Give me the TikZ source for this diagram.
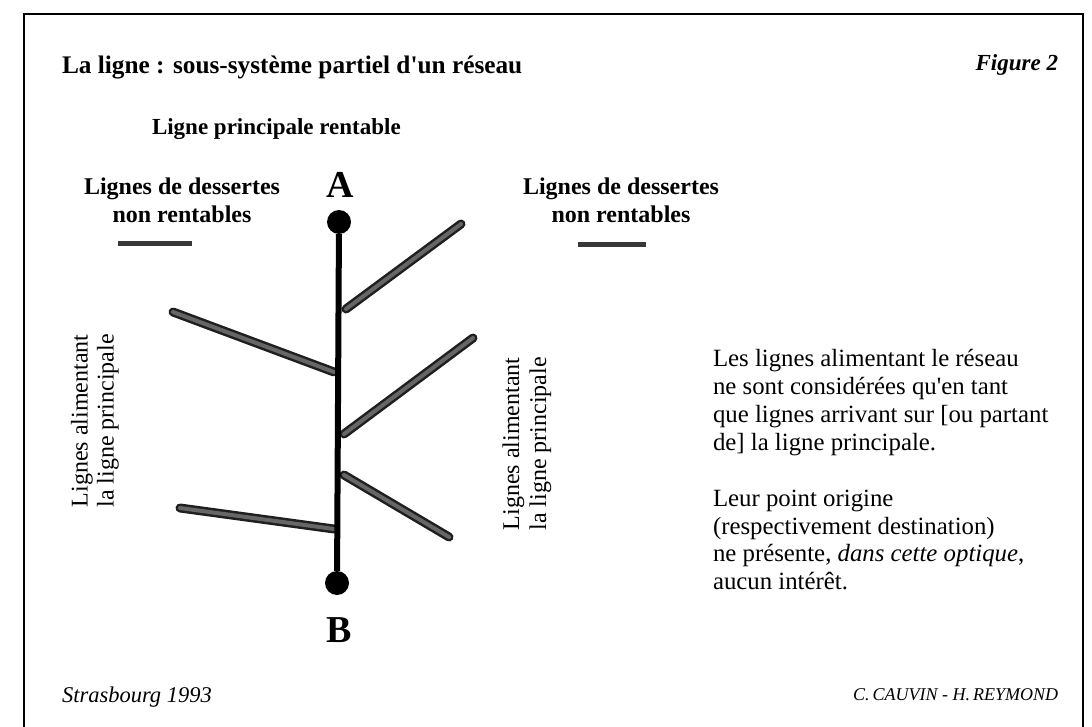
\documentclass[tikz,border=0pt]{standalone}
\usepackage{fontspec}
\setmainfont{Liberation Serif}
\begin{document}
\begin{tikzpicture}[x=1pt,y=-1pt,
  lbl/.style={inner sep=0pt, outer sep=0pt},
  mainline/.style={line width=6pt, black},
  stop/.style={circle, fill=black, inner sep=0pt, minimum size=24pt},
  feeder/.style={line width=9pt, black!88, line cap=round,
     postaction={draw, line width=4pt, black!60, line cap=round}},
  legendline/.style={line width=5pt, black!78}]
\useasboundingbox (0,0) rectangle (1092,727);
\clip (0,0) rectangle (1092,727);
% frame
\draw[line width=2.6pt] (24,760) -- (24,14) -- (1083,14) -- (1083,760);
% titles
\node[lbl, anchor=base west, font={\fontsize{25.3}{28}\selectfont\bfseries}] (title) at (62,74) {La ligne : sous-système partiel d\textquotesingle un réseau};
\node[lbl, anchor=base east, font={\fontsize{23}{26}\selectfont\bfseries\itshape}] (fig) at (1058,71) {Figure 2};
\node[lbl, anchor=base west, font={\fontsize{23}{26}\selectfont\bfseries}] (lpr) at (152,135) {Ligne principale rentable};
\node[lbl, anchor=base, align=center, font={\fontsize{24}{28}\selectfont\bfseries}] (dl) at (182,223) {Lignes de dessertes\\non rentables};
\node[lbl, anchor=base, align=center, font={\fontsize{24}{28}\selectfont\bfseries}] (dr) at (621,223) {Lignes de dessertes\\non rentables};
% A and B
\node[lbl, anchor=base, font={\fontsize{38}{40}\selectfont\bfseries}] (lA) at (340,198) {A};
\node[lbl, anchor=base, font={\fontsize{38}{40}\selectfont\bfseries}] (lB) at (339,642) {B};
\node[stop] (A) at (339,222) {};
\node[stop] (B) at (337,583) {};
% legend lines
\coordinate (l1a) at (118,244); \coordinate (l1b) at (192,244);
\coordinate (l2a) at (578,245); \coordinate (l2b) at (646,245);
\draw[legendline] (l1a) -- (l1b);
\draw[legendline] (l2a) -- (l2b);
% branch end points
\coordinate (j1) at (346,309); \coordinate (e1) at (461,224);
\coordinate (j2) at (334,372); \coordinate (e2) at (173,312);
\coordinate (j3) at (344,434); \coordinate (e3) at (473,338);
\coordinate (j4) at (344,475); \coordinate (e4) at (449,537);
\coordinate (j5) at (334,529); \coordinate (e5) at (180,508);
\draw[feeder] (j1) -- (e1);
\draw[feeder] (j2) -- (e2);
\draw[feeder] (j3) -- (e3);
\draw[feeder] (j4) -- (e4);
\draw[feeder] (j5) -- (e5);
% main line
\draw[mainline] (A) -- (B);
% rotated labels
\node[lbl, rotate=90, align=center, font={\fontsize{24}{26}\selectfont}] (rl) at (95,421) {Lignes alimentant\\la ligne principale};
\node[lbl, rotate=90, align=center, font={\fontsize{24}{27}\selectfont}] (rr) at (527,444) {Lignes alimentant\\la ligne principale};
% explanatory text
\node[lbl, anchor=base west, align=left, font={\fontsize{24.8}{27.7}\selectfont}] (p1) at (713,450) {Les lignes alimentant le réseau\\ne sont considérées qu\textquotesingle en tant\\que lignes arrivant sur [ou partant\\de] la ligne principale.};
\node[lbl, anchor=base west, align=left, font={\fontsize{24.8}{27.5}\selectfont}] (p2) at (713,589) {Leur point origine\\(respectivement destination)\\ne présente, \textit{dans cette optique},\\aucun intérêt.};
% footer
\node[lbl, anchor=base west, font={\fontsize{22.5}{24}\selectfont\itshape}] (f1) at (62,702) {Strasbourg 1993};
\node[lbl, anchor=base east, font={\fontsize{18}{22}\selectfont\itshape}] (f2) at (1058,700) {C.\,CAUVIN - H.\,REYMOND};
\end{tikzpicture}
\end{document}
